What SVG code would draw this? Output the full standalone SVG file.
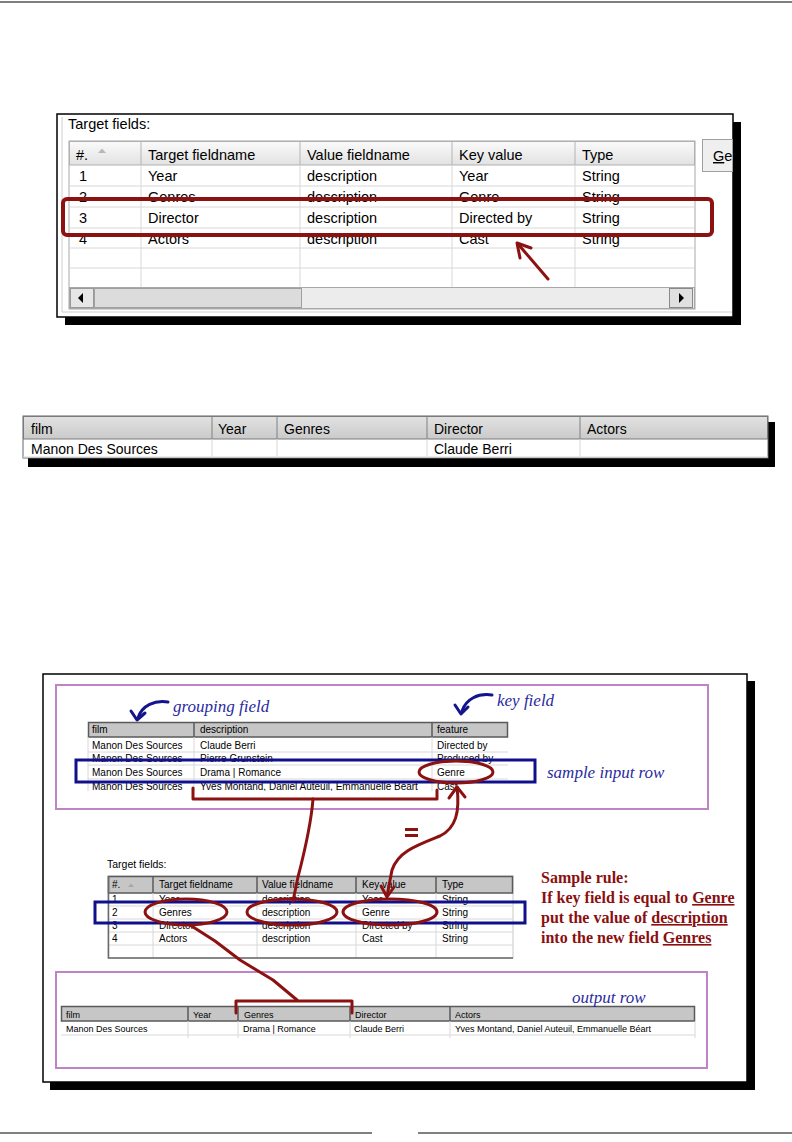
<svg xmlns="http://www.w3.org/2000/svg" width="792" height="1142" viewBox="0 0 792 1142">
<defs>
<style>
.s14{font-family:"Liberation Sans",Arial,sans-serif;font-size:14.5px;fill:#000}
.s14b{font-family:"Liberation Sans",Arial,sans-serif;font-size:14px;fill:#000}
.s10{font-family:"Liberation Sans",Arial,sans-serif;font-size:10px;fill:#000}
.s9{font-family:"Liberation Sans",Arial,sans-serif;font-size:9px;fill:#000}
.ann{font-family:"Liberation Serif","Times New Roman",serif;font-style:italic;font-size:17px;fill:#2a2aa0}
.rule{font-family:"Liberation Serif","Times New Roman",serif;font-weight:bold;font-size:16px;fill:#8b0f0f}
.grid{stroke:#d8d8d8;stroke-width:1;fill:none}
.dk{stroke:#5a5a5a;stroke-width:1.5;fill:none}
.red{stroke:#8c1212;stroke-width:3;fill:none;stroke-linecap:round;stroke-linejoin:round}
.blue{stroke:#10108c;stroke-width:3;fill:none}
.bluec{stroke:#14148c;stroke-width:3;fill:none;stroke-linecap:round;stroke-linejoin:round}
.pink{stroke:#c183c8;stroke-width:2;fill:none}
.hg{fill:#c6c6c6}
</style>
<linearGradient id="hdr1" x1="0" y1="0" x2="0" y2="1">
<stop offset="0" stop-color="#fafafa"/><stop offset="1" stop-color="#e2e2e2"/>
</linearGradient>
<linearGradient id="hdr2" x1="0" y1="0" x2="0" y2="1">
<stop offset="0" stop-color="#e2e2e2"/><stop offset="1" stop-color="#cacaca"/>
</linearGradient>
<clipPath id="clipIn"><rect x="86" y="720" width="424" height="71"/></clipPath>
</defs>

<g id="page-lines">
<line x1="0" y1="2" x2="792" y2="2" stroke="#000" stroke-width="1"/>
<line x1="0" y1="1133" x2="372" y2="1133" stroke="#000" stroke-width="1"/>
<line x1="418" y1="1133" x2="792" y2="1133" stroke="#000" stroke-width="1"/>
</g>

<!-- ============ Figure 1 ============ -->
<g id="fig1">
<rect x="65" y="122" width="676" height="203" fill="#000"/>
<rect x="57" y="114" width="676" height="203" fill="#fff" stroke="#000" stroke-width="1.5"/>
<path d="M62,117 V312 H732" fill="none" stroke="#cfcfcf"/>
<text x="68" y="129" class="s14">Target fields:</text>
<rect x="69" y="141" width="626" height="168" fill="#fff" stroke="#a8a8a8"/>
<rect x="69.5" y="141.5" width="625" height="23.5" fill="url(#hdr1)" stroke="#b0b0b0"/>
<g stroke="#b4b4b4"><line x1="141" y1="142" x2="141" y2="165"/><line x1="300" y1="142" x2="300" y2="165"/><line x1="452" y1="142" x2="452" y2="165"/><line x1="575" y1="142" x2="575" y2="165"/></g>
<g class="grid">
<line x1="69" y1="186" x2="695" y2="186"/><line x1="69" y1="207" x2="695" y2="207"/><line x1="69" y1="228" x2="695" y2="228"/><line x1="69" y1="248" x2="695" y2="248"/><line x1="69" y1="268" x2="695" y2="268"/>
<line x1="141" y1="165" x2="141" y2="287"/><line x1="300" y1="165" x2="300" y2="287"/><line x1="452" y1="165" x2="452" y2="287"/><line x1="575" y1="165" x2="575" y2="287"/>
</g>
<text x="76" y="160" class="s14">#.</text>
<polygon points="98,153 102,148.5 106,153" fill="#b8b8b8"/>
<text x="148" y="160" class="s14">Target fieldname</text>
<text x="307" y="160" class="s14">Value fieldname</text>
<text x="459" y="160" class="s14">Key value</text>
<text x="582" y="160" class="s14">Type</text>
<g class="s14">
<text x="79" y="181">1</text><text x="148" y="181">Year</text><text x="307" y="181">description</text><text x="459" y="181">Year</text><text x="582" y="181">String</text>
<text x="79" y="202">2</text><text x="148" y="202">Genres</text><text x="307" y="202">description</text><text x="459" y="202">Genre</text><text x="582" y="202">String</text>
<text x="79" y="223">3</text><text x="148" y="223">Director</text><text x="307" y="223">description</text><text x="459" y="223">Directed by</text><text x="582" y="223">String</text>
<text x="79" y="244">4</text><text x="148" y="244">Actors</text><text x="307" y="244">description</text><text x="459" y="244">Cast</text><text x="582" y="244">String</text>
</g>
<!-- scrollbar -->
<rect x="69.5" y="287.5" width="625" height="21" fill="#ececec" stroke="#a8a8a8"/>
<rect x="70.5" y="288.5" width="23" height="19" fill="#e6e6e6" stroke="#9a9a9a"/>
<polygon points="83,293 78,298 83,303" fill="#000"/>
<rect x="94.5" y="288.5" width="207" height="19" fill="#dcdcdc" stroke="#a0a0a0"/>
<rect x="669.5" y="288.5" width="23" height="19" fill="#e0e0e0" stroke="#8a8a8a"/>
<polygon points="679,293 684,298 679,303" fill="#000"/>
<!-- Ge button -->
<rect x="702.5" y="139.5" width="30" height="32" fill="#efefef" stroke="#a0a0a0"/>
<text x="713" y="161" class="s14"><tspan text-decoration="underline">G</tspan>e</text>
<!-- red highlight -->
<rect x="63" y="199" width="649" height="36" rx="4" fill="none" stroke="#8c1212" stroke-width="4"/>
<line x1="548" y1="279" x2="518" y2="244" class="red" stroke-width="4"/>
<polyline points="531,248 517,243 520,258" class="red" stroke-width="4"/>
</g>

<!-- ============ Figure 2 ============ -->
<g id="fig2">
<rect x="28" y="422" width="747" height="45" fill="#000"/>
<rect x="23" y="416" width="745" height="42" fill="#fff" stroke="#666" stroke-width="1"/>
<rect x="23.5" y="416.5" width="744" height="22.5" fill="url(#hdr2)" stroke="#7a7a7a"/>
<g stroke="#808080"><line x1="212" y1="417" x2="212" y2="439"/><line x1="277" y1="417" x2="277" y2="439"/><line x1="427" y1="417" x2="427" y2="439"/><line x1="580" y1="417" x2="580" y2="439"/></g>
<g class="grid"><line x1="212" y1="439" x2="212" y2="458"/><line x1="277" y1="439" x2="277" y2="458"/><line x1="427" y1="439" x2="427" y2="458"/><line x1="580" y1="439" x2="580" y2="458"/><line x1="23" y1="457" x2="768" y2="457"/></g>
<g class="s14b">
<text x="31" y="434">film</text><text x="218" y="434">Year</text><text x="284" y="434">Genres</text><text x="434" y="434">Director</text><text x="587" y="434">Actors</text>
<text x="31" y="454">Manon Des Sources</text><text x="434" y="454">Claude Berri</text>
</g>
</g>

<!-- ============ Figure 3 ============ -->
<g id="fig3-frame">
<rect x="50" y="681" width="705" height="409" fill="#000"/>
<rect x="43" y="674" width="704" height="408" fill="#fff" stroke="#000" stroke-width="1.5"/>
<rect x="56" y="685" width="652" height="124" class="pink"/>
<rect x="56" y="972" width="651" height="96" class="pink"/>
</g>

<g id="input-table">
<g clip-path="url(#clipIn)">
<rect x="88" y="722" width="420" height="75" fill="#fff"/>
<rect x="88.5" y="722.5" width="419" height="14.5" class="hg" stroke="#5a5a5a" stroke-width="1.5"/>
<g stroke="#5a5a5a" stroke-width="1.5"><line x1="194" y1="722" x2="194" y2="737"/><line x1="432" y1="722" x2="432" y2="737"/></g>
<g class="grid"><line x1="88" y1="752" x2="508" y2="752"/><line x1="88" y1="765" x2="508" y2="765"/><line x1="88" y1="779" x2="508" y2="779"/><line x1="88" y1="792" x2="508" y2="792"/>
<line x1="194" y1="737" x2="194" y2="795"/><line x1="432" y1="737" x2="432" y2="795"/><line x1="88" y1="737" x2="88" y2="795"/></g>
<g class="s10">
<text x="92" y="733">film</text><text x="200" y="733">description</text><text x="437" y="733">feature</text>
<text x="92" y="749">Manon Des Sources</text><text x="200" y="749">Claude Berri</text><text x="437" y="749">Directed by</text>
<text x="92" y="762">Manon Des Sources</text><text x="200" y="762">Pierre Grunstein</text><text x="437" y="762">Produced by</text>
<text x="92" y="776">Manon Des Sources</text><text x="200" y="776">Drama | Romance</text><text x="437" y="776">Genre</text>
<text x="92" y="790">Manon Des Sources</text><text x="200" y="790">Yves Montand, Daniel Auteuil, Emmanuelle Béart</text><text x="437" y="790">Cast</text>
</g>
</g>
</g>

<g id="target-table">
<text x="107" y="868" class="s10" style="font-size:10.5px">Target fields:</text>
<rect x="108" y="876" width="405" height="82" fill="#fff" stroke="#c8c8c8"/>
<rect x="108.5" y="876.5" width="404" height="16.5" class="hg" stroke="#5a5a5a" stroke-width="1.5"/>
<g stroke="#5a5a5a" stroke-width="1.5"><line x1="153" y1="877" x2="153" y2="893"/><line x1="257" y1="877" x2="257" y2="893"/><line x1="356" y1="877" x2="356" y2="893"/><line x1="436" y1="877" x2="436" y2="893"/></g>
<g class="grid"><line x1="108" y1="906" x2="513" y2="906"/><line x1="108" y1="919" x2="513" y2="919"/><line x1="108" y1="932" x2="513" y2="932"/><line x1="108" y1="945" x2="513" y2="945"/>
<line x1="153" y1="893" x2="153" y2="958"/><line x1="257" y1="893" x2="257" y2="958"/><line x1="356" y1="893" x2="356" y2="958"/><line x1="436" y1="893" x2="436" y2="958"/></g>
<path d="M108.5,876 V958 H513" fill="none" stroke="#6a6a6a" stroke-width="1.5"/>
<g class="s10">
<text x="112" y="888">#.</text><polygon points="128,887 131,883.5 134,887" fill="#a8a8a8"/>
<text x="159" y="888">Target fieldname</text><text x="262" y="888">Value fieldname</text><text x="362" y="888">Key value</text><text x="442" y="888">Type</text>
<text x="112" y="903">1</text><text x="159" y="903">Year</text><text x="262" y="903">description</text><text x="362" y="903">Year</text><text x="442" y="903">String</text>
<text x="112" y="916">2</text><text x="159" y="916">Genres</text><text x="262" y="916">description</text><text x="362" y="916">Genre</text><text x="442" y="916">String</text>
<text x="112" y="929">3</text><text x="159" y="929">Director</text><text x="262" y="929">description</text><text x="362" y="929">Directed by</text><text x="442" y="929">String</text>
<text x="112" y="942">4</text><text x="159" y="942">Actors</text><text x="262" y="942">description</text><text x="362" y="942">Cast</text><text x="442" y="942">String</text>
</g>
</g>

<g id="output-table">
<rect x="61" y="1006" width="634" height="30" fill="#fff"/>
<rect x="61.5" y="1006.5" width="633" height="14.5" class="hg" stroke="#5a5a5a" stroke-width="1.5"/>
<g stroke="#5a5a5a" stroke-width="1.5"><line x1="188" y1="1007" x2="188" y2="1021"/><line x1="238" y1="1007" x2="238" y2="1021"/><line x1="350" y1="1007" x2="350" y2="1021"/><line x1="450" y1="1007" x2="450" y2="1021"/></g>
<g class="grid"><line x1="61" y1="1035" x2="695" y2="1035"/><line x1="188" y1="1021" x2="188" y2="1038"/><line x1="238" y1="1021" x2="238" y2="1038"/><line x1="350" y1="1021" x2="350" y2="1038"/><line x1="450" y1="1021" x2="450" y2="1038"/><line x1="695" y1="1021" x2="695" y2="1038"/></g>
<g class="s9">
<text x="66" y="1018">film</text><text x="193" y="1018">Year</text><text x="244" y="1018">Genres</text><text x="355" y="1018">Director</text><text x="455" y="1018">Actors</text>
<text x="66" y="1032">Manon Des Sources</text><text x="243" y="1032">Drama | Romance</text><text x="354" y="1032">Claude Berri</text><text x="455" y="1032">Yves Montand, Daniel Auteuil, Emmanuelle Béart</text>
</g>
</g>

<g id="annotations">
<text x="173" y="712" class="ann">grouping field</text>
<text x="497" y="706" class="ann">key field</text>
<text x="547" y="778" class="ann">sample input row</text>
<text x="572" y="1003" class="ann">output row</text>
<g id="sample-rule" class="rule">
<text x="541" y="883">Sample rule:</text>
<text x="541" y="903">If key field is equal to <tspan text-decoration="underline">Genre</tspan></text>
<text x="541" y="923">put the value of <tspan text-decoration="underline">description</tspan></text>
<text x="541" y="943">into the new field <tspan text-decoration="underline">Genres</tspan></text>
</g>
<g id="equals" fill="#8c1212"><rect x="405" y="828" width="13" height="3"/><rect x="405" y="834" width="13" height="3"/></g>
</g>

<g id="connectors">
<!-- blue highlight boxes -->
<rect x="76" y="760" width="459" height="22" class="blue"/>
<rect x="95" y="902" width="430" height="21" class="blue"/>
<!-- blue curved pointers -->
<path d="M168,702 C155,700 142,705 138,718" class="bluec"/>
<polyline points="131,711 137,720 145,713" class="bluec"/>
<path d="M492,695 C478,693 466,699 462,711" class="bluec"/>
<polyline points="455,705 461,714 468,707" class="bluec"/>
<!-- red ellipses -->
<ellipse cx="456" cy="772" rx="37" ry="11" class="red"/>
<ellipse cx="186" cy="912" rx="41" ry="13" class="red"/>
<ellipse cx="292" cy="912" rx="45" ry="13" class="red"/>
<ellipse cx="390" cy="912" rx="47" ry="13" class="red"/>
<!-- brackets -->
<polyline points="193,788 193,799 437,799 437,790" class="red"/>
<polyline points="236,1013 236,1001 352,1001 352,1013" class="red"/>
<!-- links -->
<path d="M313,799 C311,825 305,850 298,877 L293,901" class="red"/>
<path d="M190,925 L215,941 L240,960 L273,980 L297,1000" class="red"/>
<path d="M457,787 C460,812 456,828 440,836 C415,846 398,852 392,870 L387,896" class="red"/>
<polyline points="449,798 457,787 465,797" class="red"/>
<polyline points="381,886 387,897 394,887" class="red"/>
</g>
</svg>
